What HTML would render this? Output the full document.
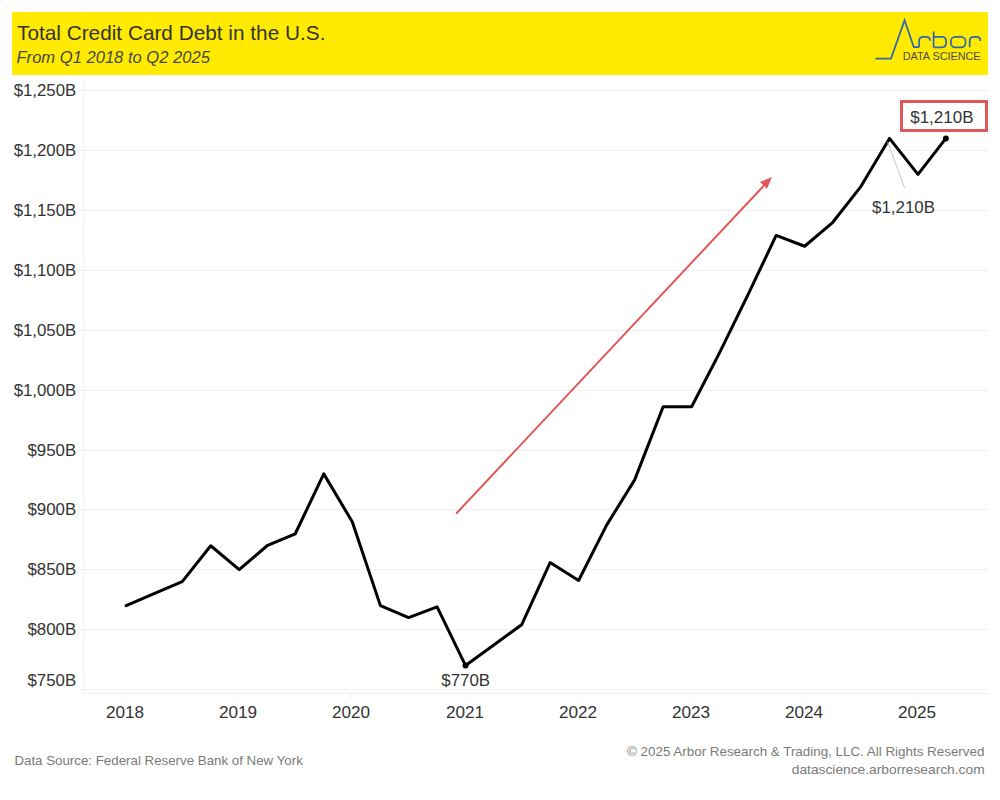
<!DOCTYPE html>
<html><head><meta charset="utf-8"><style>
html,body{margin:0;padding:0;background:#fff;width:1000px;height:800px;overflow:hidden}
svg{display:block}
text{font-family:"Liberation Sans",sans-serif}
</style></head><body>
<svg width="1000" height="800" viewBox="0 0 1000 800">
<rect x="0" y="0" width="1000" height="800" fill="#fff"/>
<rect x="12" y="12" width="976" height="63" fill="#ffea00"/>
<text id="title" x="17.00" y="39.75" font-size="20.2" fill="#333333" textLength="308.40" lengthAdjust="spacingAndGlyphs">Total Credit Card Debt in the U.S.</text>
<text id="sub" x="16.50" y="62.50" font-size="15.6" fill="#474747" font-style="italic" textLength="193.40" lengthAdjust="spacingAndGlyphs">From Q1 2018 to Q2 2025</text>
<g id="logo" fill="none" stroke="#2f68b0" stroke-width="1.75" stroke-linejoin="miter">
<polyline points="875.5,58.6 891,58.6 904.6,20.2 913.8,47.2 919,47.2"/>
<path d="M919.1,47.3 V41 Q919.1,36.9 923.5,36.9 H926 Q929.9,36.9 929.9,40 V40.8"/>
<path d="M933.6,31.6 V47.3 M933.6,36.9 H941.8 Q946.1,36.9 946.1,41.2 V43 Q946.1,47.3 941.8,47.3 H933.6"/>
<rect x="950.9" y="36.9" width="14.6" height="10.4" rx="4.3"/>
<path d="M969.7,47.3 V41 Q969.7,36.9 974,36.9 H976.5 Q980.3,36.9 980.3,40 V41"/>
</g>
<text id="ds" x="902.80" y="59.70" font-size="11" fill="#4a4a58" textLength="77.80" lengthAdjust="spacingAndGlyphs">DATA SCIENCE</text>
<g><rect x="78" y="689" width="910" height="1" fill="#f0f0f0"/><rect x="78" y="629" width="910" height="1" fill="#f0f0f0"/><rect x="78" y="569" width="910" height="1" fill="#f0f0f0"/><rect x="78" y="509" width="910" height="1" fill="#f0f0f0"/><rect x="78" y="450" width="910" height="1" fill="#f0f0f0"/><rect x="78" y="390" width="910" height="1" fill="#f0f0f0"/><rect x="78" y="330" width="910" height="1" fill="#f0f0f0"/><rect x="78" y="270" width="910" height="1" fill="#f0f0f0"/><rect x="78" y="210" width="910" height="1" fill="#f0f0f0"/><rect x="78" y="150" width="910" height="1" fill="#f0f0f0"/><rect x="78" y="90" width="910" height="1" fill="#f0f0f0"/></g>
<rect x="83" y="78" width="1" height="616" fill="#f0f0f0"/>
<rect x="83" y="693" width="906" height="1" fill="#f0f0f0"/>
<g><rect x="88" y="694" width="1" height="1" fill="#f3f3f3"/><rect x="97" y="694" width="1" height="1" fill="#f3f3f3"/><rect x="107" y="694" width="1" height="1" fill="#f3f3f3"/><rect x="116" y="694" width="1" height="1" fill="#f3f3f3"/><rect x="125" y="694" width="1" height="4" fill="#ededed"/><rect x="135" y="694" width="1" height="1" fill="#f3f3f3"/><rect x="144" y="694" width="1" height="1" fill="#f3f3f3"/><rect x="153" y="694" width="1" height="1" fill="#f3f3f3"/><rect x="163" y="694" width="1" height="1" fill="#f3f3f3"/><rect x="172" y="694" width="1" height="1" fill="#f3f3f3"/><rect x="181" y="694" width="1" height="1" fill="#f3f3f3"/><rect x="191" y="694" width="1" height="1" fill="#f3f3f3"/><rect x="201" y="694" width="1" height="1" fill="#f3f3f3"/><rect x="210" y="694" width="1" height="1" fill="#f3f3f3"/><rect x="220" y="694" width="1" height="1" fill="#f3f3f3"/><rect x="229" y="694" width="1" height="1" fill="#f3f3f3"/><rect x="238" y="694" width="1" height="4" fill="#ededed"/><rect x="248" y="694" width="1" height="1" fill="#f3f3f3"/><rect x="257" y="694" width="1" height="1" fill="#f3f3f3"/><rect x="266" y="694" width="1" height="1" fill="#f3f3f3"/><rect x="276" y="694" width="1" height="1" fill="#f3f3f3"/><rect x="285" y="694" width="1" height="1" fill="#f3f3f3"/><rect x="294" y="694" width="1" height="1" fill="#f3f3f3"/><rect x="304" y="694" width="1" height="1" fill="#f3f3f3"/><rect x="314" y="694" width="1" height="1" fill="#f3f3f3"/><rect x="323" y="694" width="1" height="1" fill="#f3f3f3"/><rect x="333" y="694" width="1" height="1" fill="#f3f3f3"/><rect x="342" y="694" width="1" height="1" fill="#f3f3f3"/><rect x="351" y="694" width="1" height="4" fill="#ededed"/><rect x="361" y="694" width="1" height="1" fill="#f3f3f3"/><rect x="370" y="694" width="1" height="1" fill="#f3f3f3"/><rect x="380" y="694" width="1" height="1" fill="#f3f3f3"/><rect x="389" y="694" width="1" height="1" fill="#f3f3f3"/><rect x="399" y="694" width="1" height="1" fill="#f3f3f3"/><rect x="408" y="694" width="1" height="1" fill="#f3f3f3"/><rect x="417" y="694" width="1" height="1" fill="#f3f3f3"/><rect x="427" y="694" width="1" height="1" fill="#f3f3f3"/><rect x="436" y="694" width="1" height="1" fill="#f3f3f3"/><rect x="446" y="694" width="1" height="1" fill="#f3f3f3"/><rect x="455" y="694" width="1" height="1" fill="#f3f3f3"/><rect x="465" y="694" width="1" height="4" fill="#ededed"/><rect x="474" y="694" width="1" height="1" fill="#f3f3f3"/><rect x="483" y="694" width="1" height="1" fill="#f3f3f3"/><rect x="493" y="694" width="1" height="1" fill="#f3f3f3"/><rect x="502" y="694" width="1" height="1" fill="#f3f3f3"/><rect x="512" y="694" width="1" height="1" fill="#f3f3f3"/><rect x="521" y="694" width="1" height="1" fill="#f3f3f3"/><rect x="530" y="694" width="1" height="1" fill="#f3f3f3"/><rect x="540" y="694" width="1" height="1" fill="#f3f3f3"/><rect x="549" y="694" width="1" height="1" fill="#f3f3f3"/><rect x="559" y="694" width="1" height="1" fill="#f3f3f3"/><rect x="568" y="694" width="1" height="1" fill="#f3f3f3"/><rect x="578" y="694" width="1" height="4" fill="#ededed"/><rect x="587" y="694" width="1" height="1" fill="#f3f3f3"/><rect x="596" y="694" width="1" height="1" fill="#f3f3f3"/><rect x="606" y="694" width="1" height="1" fill="#f3f3f3"/><rect x="615" y="694" width="1" height="1" fill="#f3f3f3"/><rect x="625" y="694" width="1" height="1" fill="#f3f3f3"/><rect x="634" y="694" width="1" height="1" fill="#f3f3f3"/><rect x="643" y="694" width="1" height="1" fill="#f3f3f3"/><rect x="653" y="694" width="1" height="1" fill="#f3f3f3"/><rect x="662" y="694" width="1" height="1" fill="#f3f3f3"/><rect x="672" y="694" width="1" height="1" fill="#f3f3f3"/><rect x="681" y="694" width="1" height="1" fill="#f3f3f3"/><rect x="691" y="694" width="1" height="4" fill="#ededed"/><rect x="700" y="694" width="1" height="1" fill="#f3f3f3"/><rect x="709" y="694" width="1" height="1" fill="#f3f3f3"/><rect x="719" y="694" width="1" height="1" fill="#f3f3f3"/><rect x="728" y="694" width="1" height="1" fill="#f3f3f3"/><rect x="738" y="694" width="1" height="1" fill="#f3f3f3"/><rect x="747" y="694" width="1" height="1" fill="#f3f3f3"/><rect x="756" y="694" width="1" height="1" fill="#f3f3f3"/><rect x="766" y="694" width="1" height="1" fill="#f3f3f3"/><rect x="775" y="694" width="1" height="1" fill="#f3f3f3"/><rect x="785" y="694" width="1" height="1" fill="#f3f3f3"/><rect x="794" y="694" width="1" height="1" fill="#f3f3f3"/><rect x="804" y="694" width="1" height="4" fill="#ededed"/><rect x="813" y="694" width="1" height="1" fill="#f3f3f3"/><rect x="822" y="694" width="1" height="1" fill="#f3f3f3"/><rect x="832" y="694" width="1" height="1" fill="#f3f3f3"/><rect x="841" y="694" width="1" height="1" fill="#f3f3f3"/><rect x="851" y="694" width="1" height="1" fill="#f3f3f3"/><rect x="860" y="694" width="1" height="1" fill="#f3f3f3"/><rect x="870" y="694" width="1" height="1" fill="#f3f3f3"/><rect x="879" y="694" width="1" height="1" fill="#f3f3f3"/><rect x="889" y="694" width="1" height="1" fill="#f3f3f3"/><rect x="898" y="694" width="1" height="1" fill="#f3f3f3"/><rect x="908" y="694" width="1" height="1" fill="#f3f3f3"/><rect x="917" y="694" width="1" height="4" fill="#ededed"/><rect x="927" y="694" width="1" height="1" fill="#f3f3f3"/><rect x="935" y="694" width="1" height="1" fill="#f3f3f3"/><rect x="945" y="694" width="1" height="1" fill="#f3f3f3"/><rect x="954" y="694" width="1" height="1" fill="#f3f3f3"/><rect x="964" y="694" width="1" height="1" fill="#f3f3f3"/><rect x="973" y="694" width="1" height="1" fill="#f3f3f3"/><rect x="983" y="694" width="1" height="1" fill="#f3f3f3"/></g>
<g><text id="y750" x="27.50" y="686.00" font-size="16" fill="#333333" textLength="48.70" lengthAdjust="spacingAndGlyphs">$750B</text><text id="y800" x="27.50" y="634.85" font-size="16" fill="#333333" textLength="48.70" lengthAdjust="spacingAndGlyphs">$800B</text><text id="y850" x="27.50" y="574.85" font-size="16" fill="#333333" textLength="48.70" lengthAdjust="spacingAndGlyphs">$850B</text><text id="y900" x="27.50" y="514.85" font-size="16" fill="#333333" textLength="48.70" lengthAdjust="spacingAndGlyphs">$900B</text><text id="y950" x="27.50" y="455.85" font-size="16" fill="#333333" textLength="48.70" lengthAdjust="spacingAndGlyphs">$950B</text><text id="y1000" x="13.70" y="395.85" font-size="16" fill="#333333" textLength="62.50" lengthAdjust="spacingAndGlyphs">$1,000B</text><text id="y1050" x="13.70" y="335.85" font-size="16" fill="#333333" textLength="62.50" lengthAdjust="spacingAndGlyphs">$1,050B</text><text id="y1100" x="13.70" y="275.85" font-size="16" fill="#333333" textLength="62.50" lengthAdjust="spacingAndGlyphs">$1,100B</text><text id="y1150" x="13.70" y="215.85" font-size="16" fill="#333333" textLength="62.50" lengthAdjust="spacingAndGlyphs">$1,150B</text><text id="y1200" x="13.70" y="155.85" font-size="16" fill="#333333" textLength="62.50" lengthAdjust="spacingAndGlyphs">$1,200B</text><text id="y1250" x="13.70" y="95.85" font-size="16" fill="#333333" textLength="62.50" lengthAdjust="spacingAndGlyphs">$1,250B</text></g>
<g><text id="x2018" x="105.90" y="718.00" font-size="16.5" fill="#333333" textLength="38.20" lengthAdjust="spacingAndGlyphs">2018</text><text id="x2019" x="218.90" y="718.00" font-size="16.5" fill="#333333" textLength="38.20" lengthAdjust="spacingAndGlyphs">2019</text><text id="x2020" x="331.90" y="718.00" font-size="16.5" fill="#333333" textLength="38.20" lengthAdjust="spacingAndGlyphs">2020</text><text id="x2021" x="445.90" y="718.00" font-size="16.5" fill="#333333" textLength="38.20" lengthAdjust="spacingAndGlyphs">2021</text><text id="x2022" x="558.90" y="718.00" font-size="16.5" fill="#333333" textLength="38.20" lengthAdjust="spacingAndGlyphs">2022</text><text id="x2023" x="671.90" y="718.00" font-size="16.5" fill="#333333" textLength="38.20" lengthAdjust="spacingAndGlyphs">2023</text><text id="x2024" x="784.90" y="718.00" font-size="16.5" fill="#333333" textLength="38.20" lengthAdjust="spacingAndGlyphs">2024</text><text id="x2025" x="897.90" y="718.00" font-size="16.5" fill="#333333" textLength="38.20" lengthAdjust="spacingAndGlyphs">2025</text></g>
<line x1="456.75" y1="513" x2="766" y2="183.4" stroke="#e15759" stroke-width="2" stroke-linecap="round"/>
<polygon points="771.9,177.1 760.0,182.0 767.0,188.8" fill="#e15759"/>
<polyline points="126.20,605.64 154.07,593.66 182.25,581.68 210.73,545.74 239.22,569.70 267.09,545.74 295.27,533.76 323.76,473.86 352.25,521.78 380.42,605.64 408.60,617.62 437.09,606.84 465.58,665.54 493.45,645.17 521.62,624.81 550.11,562.51 578.60,580.48 606.47,525.37 634.65,479.85 663.13,406.77 691.62,406.77 719.49,352.86 747.67,295.36 776.16,235.46 804.65,246.24 832.82,222.28 861.00,186.34 889.49,138.42 917.98,174.36 945.85,138.42" fill="none" stroke="#000" stroke-width="3" stroke-linejoin="round" stroke-linecap="round"/>
<circle cx="465.58" cy="665.54" r="3" fill="#000"/>
<circle cx="945.85" cy="138.42" r="3" fill="#000"/>
<text id="l770" x="441.30" y="685.90" font-size="16" fill="#333333" textLength="48.70" lengthAdjust="spacingAndGlyphs">$770B</text>
<line x1="887.6" y1="141.8" x2="904.6" y2="188" stroke="#c8c8c8" stroke-width="1"/>
<text id="l1210" x="872.10" y="212.90" font-size="16" fill="#333333" textLength="62.80" lengthAdjust="spacingAndGlyphs">$1,210B</text>
<rect x="901.5" y="101.5" width="85" height="29" fill="none" stroke="#e15759" stroke-width="3"/>
<text id="b1210" x="910.20" y="122.50" font-size="16" fill="#333333" textLength="63.30" lengthAdjust="spacingAndGlyphs">$1,210B</text>
<text id="f1" x="14.40" y="765.00" font-size="13" fill="#7a7a7a" textLength="288.40" lengthAdjust="spacingAndGlyphs">Data Source: Federal Reserve Bank of New York</text>
<text id="f2" x="627.00" y="756.00" font-size="13" fill="#7a7a7a" textLength="357.40" lengthAdjust="spacingAndGlyphs">© 2025 Arbor Research &amp; Trading, LLC. All Rights Reserved</text>
<text id="f3" x="791.80" y="773.60" font-size="13" fill="#7a7a7a" textLength="192.80" lengthAdjust="spacingAndGlyphs">datascience.arborresearch.com</text>
</svg>
</body></html>
